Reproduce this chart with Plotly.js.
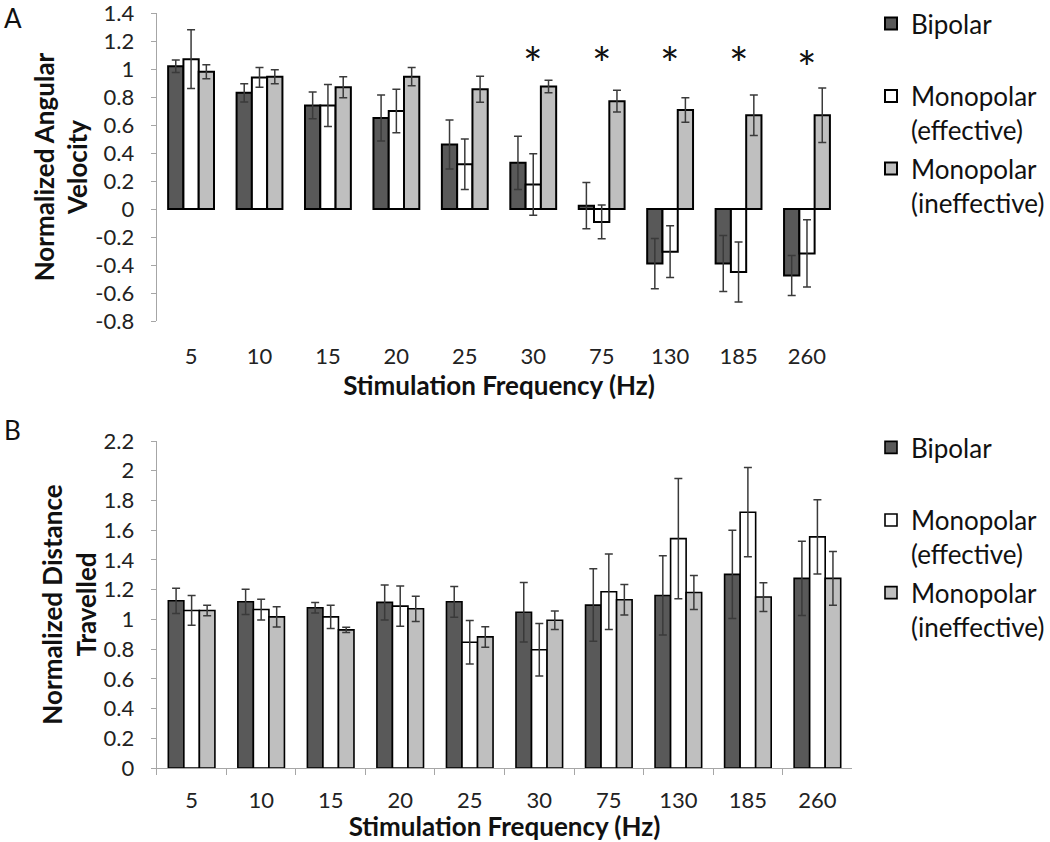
<!DOCTYPE html>
<html>
<head>
<meta charset="utf-8">
<script src="https://cdn.plot.ly/plotly-3.0.1.min.js"></script>
<style>html,body{margin:0;padding:0;background:#fff}#chart{width:1050px;height:842px}</style>
</head>
<body>
<div id="chart"></div>
<script>
// ---- data ----
const categories = ['5', '10', '15', '20', '25', '30', '75', '130', '185', '260'];
const seriesNames = ['Bipolar', 'Monopolar<br>(effective)', 'Monopolar<br>(ineffective)'];

// Panel A: Normalized Angular Velocity
const velBipolar      = [1.02, 0.83, 0.74, 0.65, 0.46, 0.33, 0.024, -0.39, -0.39, -0.475];
const velBipolarErr   = [0.045, 0.065, 0.095, 0.165, 0.175, 0.19, 0.165, 0.18, 0.20, 0.143];
const velMonoEff      = [1.07, 0.94, 0.74, 0.70, 0.32, 0.175, -0.092, -0.305, -0.45, -0.317];
const velMonoEffErr   = [0.21, 0.07, 0.15, 0.155, 0.18, 0.22, 0.12, 0.185, 0.215, 0.24];
const velMonoIneff    = [0.98, 0.945, 0.87, 0.945, 0.855, 0.875, 0.77, 0.707, 0.67, 0.67];
const velMonoIneffErr = [0.05, 0.05, 0.075, 0.065, 0.093, 0.045, 0.078, 0.088, 0.145, 0.195];

// significance markers (panel A)
const sigCategories = ['30', '75', '130', '185', '260'];
const sigY          = [1.04, 1.04, 1.04, 1.04, 1.01];

// Panel B: Normalized Distance Travelled
const distBipolar      = [1.125, 1.118, 1.078, 1.114, 1.118, 1.048, 1.096, 1.161, 1.303, 1.276];
const distBipolarErr   = [0.085, 0.085, 0.035, 0.118, 0.103, 0.20, 0.244, 0.267, 0.297, 0.25];
const distMonoEff      = [1.06, 1.066, 1.017, 1.089, 0.846, 0.796, 1.186, 1.543, 1.721, 1.555];
const distMonoEffErr   = [0.10, 0.07, 0.078, 0.136, 0.146, 0.177, 0.254, 0.404, 0.30, 0.25];
const distMonoIneff    = [1.06, 1.017, 0.929, 1.071, 0.882, 0.994, 1.132, 1.181, 1.15, 1.276];
const distMonoIneffErr = [0.035, 0.068, 0.018, 0.085, 0.069, 0.062, 0.103, 0.114, 0.097, 0.181];

// tick labels
const velTickLabels  = ['-0.8', '-0.6', '-0.4', '-0.2', '0', '0.2', '0.4', '0.6', '0.8', '1', '1.2', '1.4'];
const distTickLabels = ['0', '0.2', '0.4', '0.6', '0.8', '1', '1.2', '1.4', '1.6', '1.8', '2', '2.2'];

// ---- styling ----
const FONT = 'Lato, "Open Sans", sans-serif';
const colors = ['#595959', '#ffffff', '#bfbfbf'];
const axisGray = '#a6a6a6';
const W = 1050, H = 842;
const px = v => v / W;
const py = v => 1 - v / H;

const yDomA = [py(321), py(13)];
const yDomB = [py(768), py(441)];
const velRange = [-0.8, 1.4];
const distRange = [0, 2.2];
const zeroPosA = yDomA[0] + (yDomA[1] - yDomA[0]) * (0 - velRange[0]) / (velRange[1] - velRange[0]);
const catRange = [-0.5, categories.length - 0.5];
const boundaries = categories.map((c, i) => i - 0.5).concat([categories.length - 0.5]);

function barTrace(y, err, i, xa, ya, legend, lw) {
  return {
    type: 'bar', x: categories, y: y, name: seriesNames[i],
    xaxis: xa, yaxis: ya, legend: legend, legendgroup: legend + i, showlegend: true,
    marker: {color: colors[i], line: {color: '#000', width: lw}},
    error_y: {type: 'data', array: err, visible: true, color: '#3a3a3a', thickness: 1.5, width: 4},
    hoverinfo: 'x+y'
  };
}

const traces = [
  barTrace(velBipolar, velBipolarErr, 0, 'x', 'y', 'legend', 2),
  barTrace(velMonoEff, velMonoEffErr, 1, 'x', 'y', 'legend', 2),
  barTrace(velMonoIneff, velMonoIneffErr, 2, 'x', 'y', 'legend', 2),
  barTrace(distBipolar, distBipolarErr, 0, 'x2', 'y2', 'legend2', 1.6),
  barTrace(distMonoEff, distMonoEffErr, 1, 'x2', 'y2', 'legend2', 1.6),
  barTrace(distMonoIneff, distMonoIneffErr, 2, 'x2', 'y2', 'legend2', 1.6)
];
// Make the single-line "Bipolar" entry occupy two lines like the others
traces[0].name = 'Bipolar<br> ';
traces[3].name = 'Bipolar<br> ';

const tickFont = {family: FONT, size: 22, color: '#222'};
const titleFont = {family: FONT, size: 26, color: '#111', weight: 700};

const legendBase = {
  xanchor: 'left', yanchor: 'top', valign: 'top',
  font: {family: FONT, size: 26, color: '#111'},
  bgcolor: 'rgba(0,0,0,0)', tracegroupgap: 2, itemwidth: 30
};

const layout = {
  width: W, height: H,
  margin: {l: 0, r: 0, t: 0, b: 0},
  paper_bgcolor: '#fff', plot_bgcolor: '#fff',
  font: {family: FONT},
  barmode: 'group', bargap: 0.33, bargroupgap: 0,
  showlegend: true,
  xaxis: {
    domain: [px(157), px(842)], anchor: 'free', position: py(319), type: 'category', range: catRange,
    showline: false, ticks: 'outside', ticklen: 6, tickcolor: 'rgba(0,0,0,0)',
    showgrid: false, zeroline: false, automargin: true,
    tickfont: tickFont, ticklabelstandoff: 12,
    title: {text: 'Stimulation Frequency (Hz)', font: titleFont, standoff: 0}
  },
  xaxis3: {
    overlaying: 'x', anchor: 'free', position: zeroPosA, type: 'linear', range: catRange,
    tickmode: 'array', tickvals: boundaries, showticklabels: false,
    ticks: 'outside', ticklen: 6, tickcolor: axisGray, showline: true, linecolor: axisGray, linewidth: 1.2,
    showgrid: false, zeroline: false
  },
  yaxis: {
    domain: yDomA, anchor: 'x', range: velRange,
    tickmode: 'array', tickvals: velTickLabels.map(Number), ticktext: velTickLabels,
    ticks: 'outside', ticklen: 5, tickcolor: axisGray, showline: true, linecolor: axisGray, linewidth: 1.2,
    showgrid: false, zeroline: false, tickfont: tickFont, ticklabelstandoff: 12,
    ticklabeloverflow: 'allow',
    title: {text: 'Normalized Angular<br>Velocity', font: titleFont}
  },
  xaxis2: {
    domain: [px(157), px(853)], anchor: 'y2', type: 'category', range: catRange,
    tickson: 'boundaries', ticks: 'outside', ticklen: 6, tickcolor: axisGray,
    showline: true, linecolor: axisGray, linewidth: 1.2, showgrid: false, zeroline: false,
    tickfont: tickFont, ticklabelstandoff: 12,
    title: {text: 'Stimulation Frequency (Hz)', font: titleFont}
  },
  yaxis2: {
    domain: yDomB, anchor: 'x2', range: distRange,
    tickmode: 'array', tickvals: distTickLabels.map(Number), ticktext: distTickLabels,
    ticks: 'outside', ticklen: 5, tickcolor: axisGray, showline: true, linecolor: axisGray, linewidth: 1.2,
    showgrid: false, zeroline: false, tickfont: tickFont, ticklabelstandoff: 12,
    ticklabeloverflow: 'allow',
    title: {text: 'Normalized Distance<br>Travelled', font: titleFont}
  },
  legend: Object.assign({x: px(872), y: py(0)}, legendBase),
  legend2: Object.assign({x: px(872), y: py(424)}, legendBase),
  annotations: sigCategories.map((c, i) => ({
    xref: 'x', yref: 'y', x: categories.indexOf(c), y: sigY[i], text: '*', showarrow: false,
    font: {family: FONT, size: 46, color: '#111'}, yanchor: 'middle'
  })).concat([
    {xref: 'paper', yref: 'paper', x: px(2), y: py(0), xanchor: 'left', yanchor: 'top',
     text: 'A', showarrow: false, font: {family: FONT, size: 26, color: '#111'}},
    {xref: 'paper', yref: 'paper', x: px(2), y: py(412), xanchor: 'left', yanchor: 'top',
     text: 'B', showarrow: false, font: {family: FONT, size: 26, color: '#111'}}
  ])
};

Plotly.newPlot('chart', traces, layout, {displayModeBar: false, staticPlot: true});
</script>
</body>
</html>
